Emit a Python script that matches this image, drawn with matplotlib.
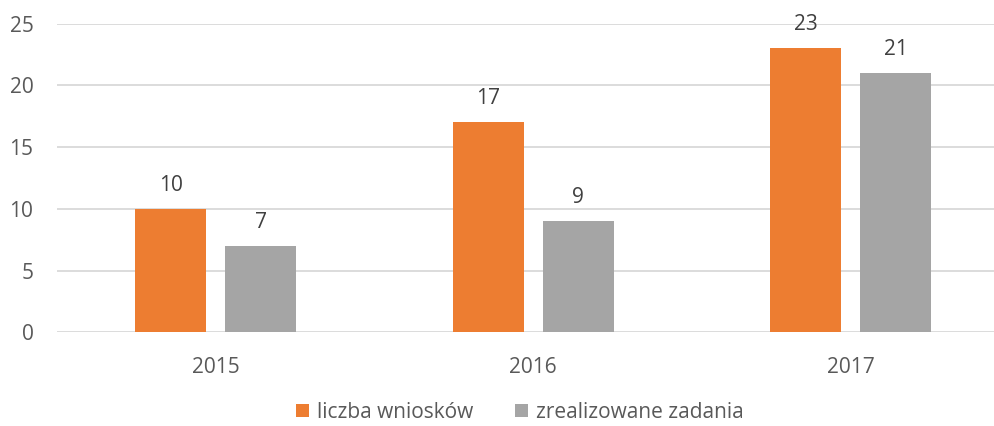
import matplotlib
matplotlib.use("Agg")
import matplotlib.pyplot as plt
import numpy as np

years = ["2015", "2016", "2017"]
wnioski = [10, 17, 23]
zadania = [7, 9, 21]
series_names = ["liczba wniosków", "zrealizowane zadania"]
colors = ["#ED7D31", "#A5A5A5"]

plt.rcParams['font.family'] = ['Open Sans', 'DejaVu Sans']

W, H = 995, 426
fig = plt.figure(figsize=(W/100, H/100), dpi=100)
left = 57/W
bottom = (H-332.3)/H
top = (H-23.7)/H
ax = fig.add_axes([left, bottom, 1-left, top-bottom])

x = np.arange(len(years))
bw = 0.2236
off = 0.1418
b1 = ax.bar(x - off, wnioski, bw, color=colors[0], label=series_names[0], zorder=3)
b2 = ax.bar(x + off, zadania, bw, color=colors[1], label=series_names[1], zorder=3)

for bars, vals in ((b1, wnioski), (b2, zadania)):
    for rect, v in zip(bars, vals):
        ax.annotate(str(v), (rect.get_x() + rect.get_width()/2, v),
                    xytext=(0, 9.5), textcoords="offset points",
                    ha="center", va="bottom", fontsize=15, color="#404040")

ax.set_ylim(0, 25)
ax.set_yticks([0, 5, 10, 15, 20, 25])
ax.set_xlim(-0.5, 2.5 - 14.5/317.5)
ax.set_xticks(x)
ax.set_xticklabels(years)
ax.yaxis.grid(True, color="#D9D9D9", linewidth=1.3, zorder=0)
ax.tick_params(axis="both", length=0, labelsize=15, labelcolor="#595959")
ax.tick_params(axis="y", pad=17)
ax.tick_params(axis="x", pad=18)
for s in ax.spines.values():
    s.set_visible(False)

fig.legend(handles=[b1, b2], labels=series_names, loc="center",
           bbox_to_anchor=(520/W, (H-412)/H), ncol=2, frameon=False,
           fontsize=15, labelcolor="#595959", handlelength=0.6, handleheight=0.6,
           handletextpad=0.4, columnspacing=2.0)

fig.savefig("out.png", dpi=100)
